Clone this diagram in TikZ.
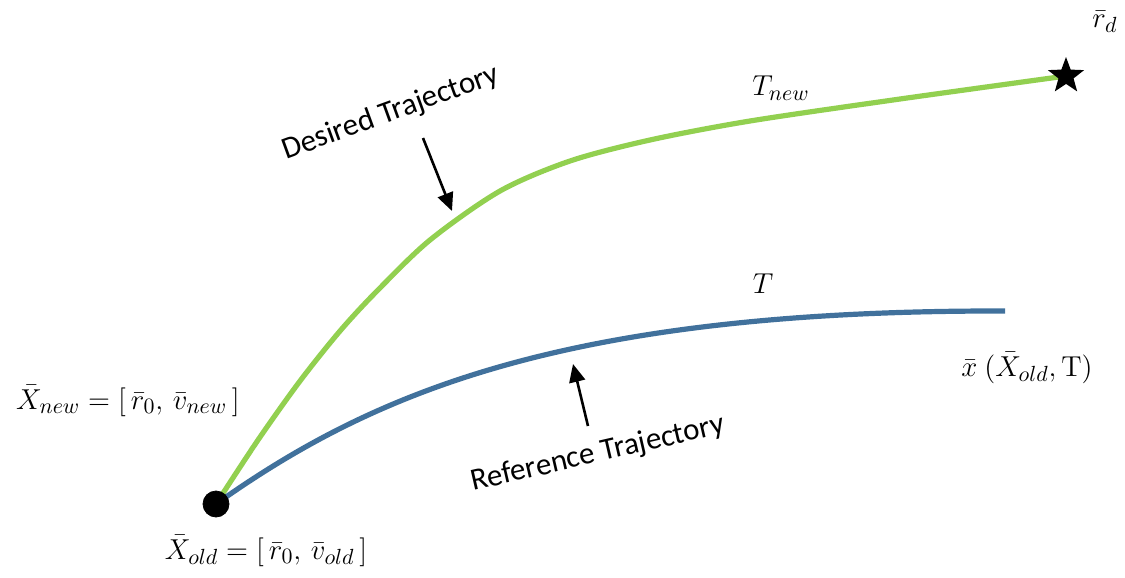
\documentclass[tikz,border=0pt]{standalone}
\usepackage{amsmath,amssymb}
\usepackage[no-math]{fontspec}
\setmainfont{Carlito}
\usetikzlibrary{arrows.meta,shapes.geometric}
\definecolor{desgreen}{RGB}{146,208,80}
\definecolor{refblue}{RGB}{65,113,156}

\begin{document}
\begin{tikzpicture}[x=0.5pt,y=-0.5pt]
  \tikzset{desiredpath/.style={draw=desgreen,line width=2.6pt}}
  \tikzset{referencepath/.style={draw=refblue,line width=2.6pt}}
  \tikzset{startdot/.style={circle,fill=black,draw=black,inner sep=0pt,minimum size=13pt}}
  \tikzset{goalstar/.style={star,star points=5,star point ratio=2.4,fill=black,inner sep=0pt,minimum size=19pt}}
  \tikzset{pointer/.style={draw=black,line width=1.3pt,-{Triangle[length=9pt,width=8pt]}}}
  \tikzset{caption/.style={font=\fontsize{15.5}{18}\selectfont,inner sep=1pt}}
  \tikzset{mathlabel/.style={font=\fontsize{15.5}{18}\selectfont,inner sep=1pt}}
  \useasboundingbox (0,0) rectangle (1125,578);
  \coordinate (oldpt) at (216,504);
  \coordinate (goalpt) at (1066,76);
  \coordinate (endpt) at (1005,311);
  \draw[desiredpath] plot[smooth,tension=0.5] coordinates
    {(oldpt) (258,440) (300,381) (340,331) (377,291) (430,240) (500,191)
     (570,161) (650,140) (750,121) (900,99) (goalpt)};
  \draw[referencepath] (oldpt) .. controls (370,395) and (560,310) .. (endpt);
  \node[startdot] (xold) at (oldpt) {};
  \node[goalstar] (rd) at (goalpt) {};
  % labels
  \node[mathlabel] (rdlabel) at (1105,22) {$\bar r_d$};
  \node[mathlabel] (tnew) at (781,88) {$T_{new}$};
  \node[mathlabel] (tref) at (763,284) {$T$};
  \node[mathlabel] (xlabel) at (1027,368) {$\bar x\ (\bar X_{old},\mathrm{T})$};
  \node[mathlabel] (xnewlabel) at (128,401) {$\bar X_{new} =[\,\bar r_0,\, \bar v_{new}\,]$};
  \node[mathlabel] (xoldlabel) at (266,551) {$\bar X_{old} =[\,\bar r_0,\, \bar v_{old}\,]$};
  % trajectory captions
  \node[caption,rotate=20] (descap) at (391,113) {Desired Trajectory};
  \node[caption,rotate=13] (refcap) at (598,454) {Reference Trajectory};
  \coordinate (desfrom) at (423,138);
  \coordinate (desto) at (452,211);
  \coordinate (reffrom) at (588,426);
  \coordinate (refto) at (573,364);
  \draw[pointer] (desfrom) -- (desto);
  \draw[pointer] (reffrom) -- (refto);
\end{tikzpicture}
\end{document}
